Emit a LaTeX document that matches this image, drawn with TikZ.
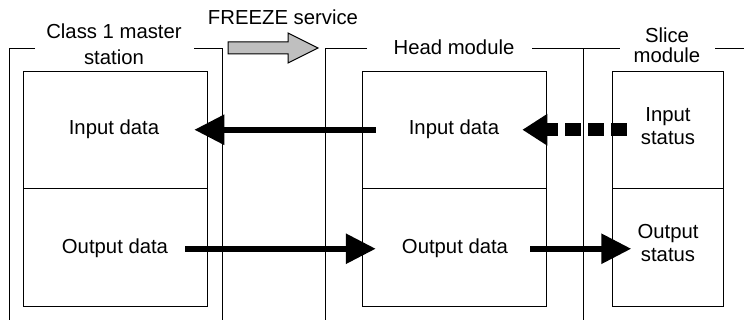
\documentclass[tikz,border=0pt]{standalone}
\usepackage{fontspec}
\setmainfont{Liberation Sans}
\usetikzlibrary{arrows.meta}
\begin{document}
\begin{tikzpicture}[x=1pt,y=-1pt,
  frame/.style={line width=1pt,black},
  cell/.style={draw,line width=1.3pt,inner sep=0pt,anchor=north west},
  lbl/.style={inner sep=0pt,anchor=base,align=center,font=\fontsize{20.3}{24}\selectfont},
  bigarrow/.style={line width=6pt,-{Triangle[length=30pt,width=29pt]}},
  dasharrow/.style={line width=13pt,dash pattern=on 16pt off 7pt,-{Triangle[length=25pt,width=30pt]}},
  svcarrow/.style={draw=black,line width=1pt,fill=black!25,line join=miter}]
\useasboundingbox[fill=white] (0,0) rectangle (744,320);

% unit frames with their title gaps
\draw[frame] (35,49) -- (9,49) -- (9,320);
\draw[frame] (194,49) -- (222,49) -- (222,320);
\draw[frame] (367,49) -- (325,49) -- (325,320);
\draw[frame] (532,49) -- (620,49);
\draw[frame] (583,49) -- (583,320);
\draw[frame] (715,49) -- (744,49);

% data areas
\node[cell,minimum width=184pt,minimum height=117pt] (mcin)  at (23,71)  {};
\node[cell,minimum width=184pt,minimum height=118pt] (mcout) at (23,188) {};
\node[cell,minimum width=184pt,minimum height=117pt] (hdin)  at (362,71) {};
\node[cell,minimum width=184pt,minimum height=118pt] (hdout) at (362,188) {};
\node[cell,minimum width=111pt,minimum height=117pt] (slin)  at (612,71) {};
\node[cell,minimum width=111pt,minimum height=118pt] (slout) at (612,188) {};

% titles
\node[lbl] (tmaster) at (114,39) {Class 1 master};
\node[lbl] (tstation) at (114,65) {station};
\node[lbl] (thead) at (454,55) {Head module};
\node[lbl] (tslice) at (667,43) {Slice};
\node[lbl] (tslmod) at (667,63) {module};
\node[lbl] (tfreeze) at (283,25) {FREEZE service};

% FREEZE service arrow
\draw[svcarrow] (228,42) -- (288,42) -- (288,33) -- (318,48) -- (288,63) -- (288,54) -- (228,54) -- cycle;

% cell texts (base anchor = baseline of the last line)
\node[lbl] (min)  at (114,135) {Input data};
\node[lbl] (mout) at (115,254) {Output data};
\node[lbl] (hin)  at (454,135) {Input data};
\node[lbl] (hout) at (455,254) {Output data};
\node[lbl] (istat) at (668,145) {Input\\[-0.5pt]status};
\node[lbl] (ostat) at (668,262) {Output\\[-0.5pt]status};

% data flow
\draw[bigarrow] ([xshift=-33pt]hin.west) -- ([xshift=35pt]min.east);
\draw[bigarrow] ([xshift=17pt]mout.east) -- ([xshift=-26pt]hout.west);
\draw[bigarrow] ([xshift=22pt]hout.east) -- ([xshift=123pt]hout.east);
\draw[dasharrow] ([xshift=-14pt]istat.west |- hin.east) -- ([xshift=23pt]hin.east);
\end{tikzpicture}
\end{document}
